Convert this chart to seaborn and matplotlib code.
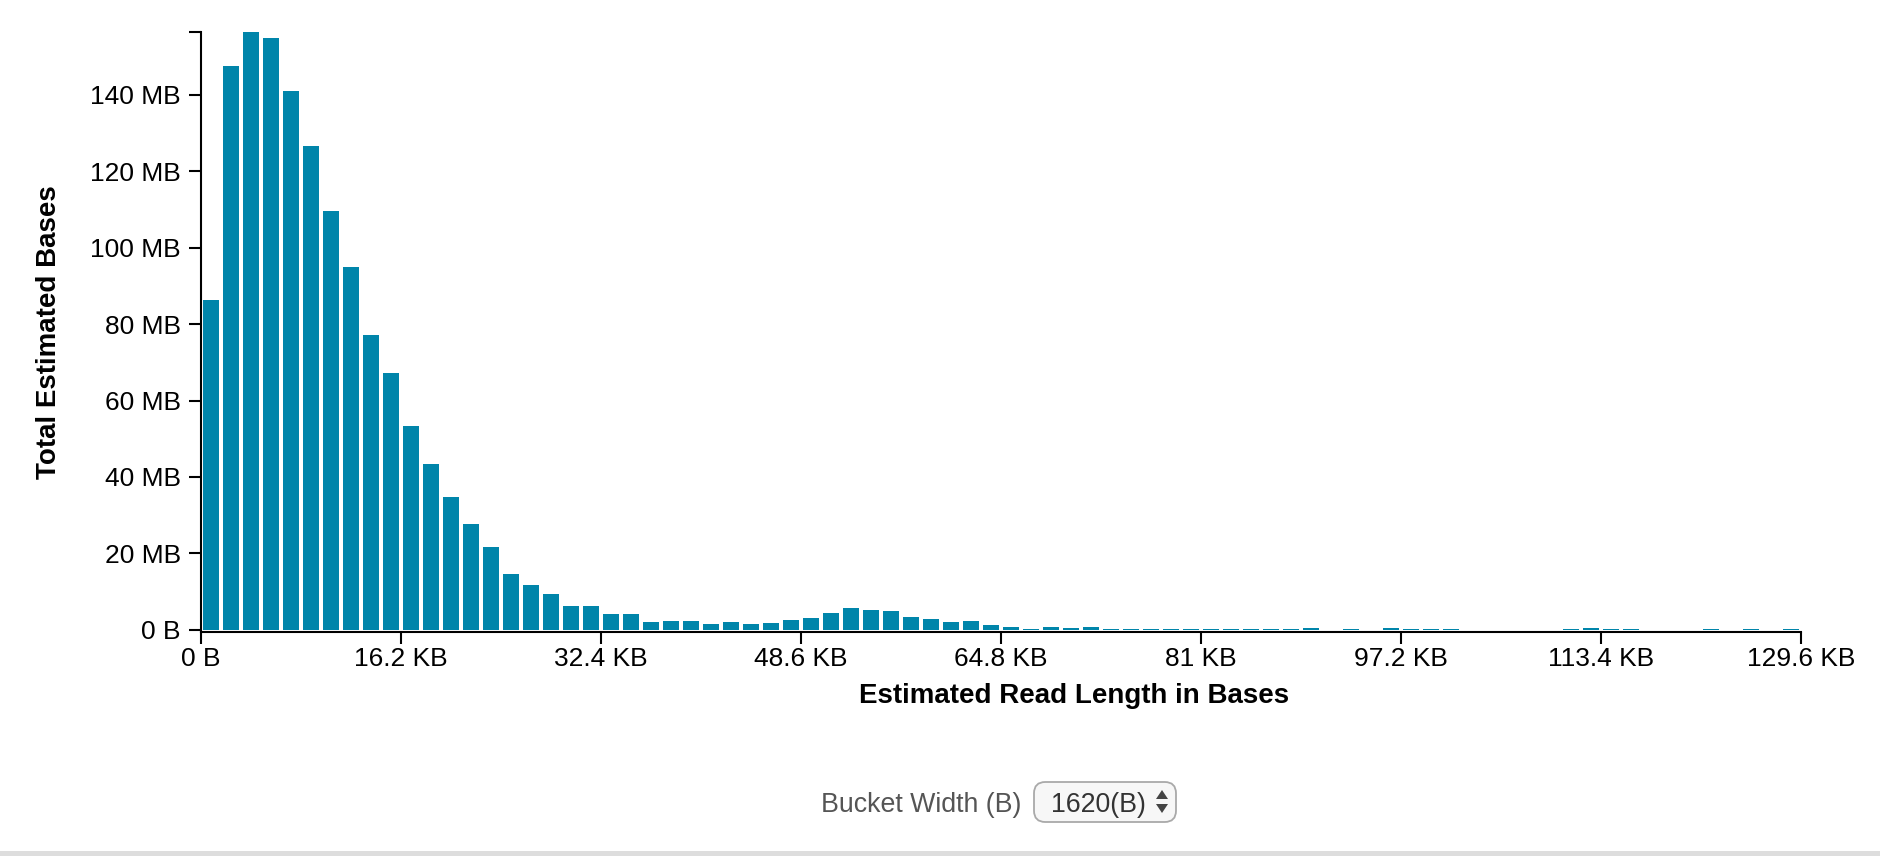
import numpy as np
import pandas as pd
import matplotlib
matplotlib.use("Agg")
import matplotlib.pyplot as plt
from matplotlib.patches import FancyBboxPatch, Rectangle, Polygon
import seaborn as sns

# ---- data -------------------------------------------------------------
bucket_width_b = 1620
n_buckets = 80
bucket_centers = [bucket_width_b * i + bucket_width_b / 2 for i in range(n_buckets)]
total_mb = [
    86.3, 147.5, 156.4, 154.9, 141.0, 126.7, 109.5, 94.9, 77.2, 67.3,
    53.4, 43.3, 34.7, 27.6, 21.6, 14.6, 11.7, 9.4, 6.3, 6.3,
    4.2, 4.2, 2.1, 2.35, 2.35, 1.55, 2.1, 1.55, 1.8, 2.6,
    3.1, 4.4, 5.7, 5.2, 4.95, 3.4, 2.9, 2.1, 2.35, 1.3,
    0.8, 0.26, 0.8, 0.5, 0.8, 0.25, 0.25, 0.25, 0.25, 0.25,
    0.25, 0.25, 0.25, 0.25, 0.25, 0.5, 0.0, 0.25, 0.0, 0.5,
    0.25, 0.25, 0.25, 0.0, 0.0, 0.0, 0.0, 0.0, 0.25, 0.5,
    0.25, 0.25, 0.0, 0.0, 0.0, 0.25, 0.0, 0.25, 0.0, 0.25,
]
x_tick_values = [0, 16200, 32400, 48600, 64800, 81000, 97200, 113400, 129600]
x_tick_labels = ["0 B", "16.2 KB", "32.4 KB", "48.6 KB", "64.8 KB",
                 "81 KB", "97.2 KB", "113.4 KB", "129.6 KB"]
y_tick_values = [0, 20, 40, 60, 80, 100, 120, 140]
y_tick_labels = ["0 B", "20 MB", "40 MB", "60 MB", "80 MB", "100 MB", "120 MB", "140 MB"]
y_max = 156.4

df = pd.DataFrame({"center": bucket_centers, "mb": total_mb})

# ---- style ------------------------------------------------------------
sns.set_style("ticks")
plt.rcParams["font.family"] = ["Liberation Sans", "DejaVu Sans"]

W, H = 1881, 856
fig = plt.figure(figsize=(W / 100, H / 100), dpi=100)
fig.patch.set_facecolor("white")

def fx(px):
    return px / W

def fy(py):
    return 1 - py / H

ax = fig.add_axes([fx(201), fy(632), 1600 / W, 600 / H])
ax.set_facecolor("white")

sns.barplot(data=df, x="center", y="mb", native_scale=True, width=0.835,
            color="#0085AA", saturation=1, linewidth=0, errorbar=None, ax=ax)

ax.set_xlim(0, 129600)
# bars sit a couple of pixels above the axis line, as in the reference
ax.set_ylim(-0.55, y_max)
ax.set_xticks(x_tick_values)
ax.set_xticklabels(x_tick_labels)
ax.set_yticks(y_tick_values + [y_max])
ax.set_yticklabels(y_tick_labels + [""])
ax.set_xlabel("")
ax.set_ylabel("")

for side in ["top", "right"]:
    ax.spines[side].set_visible(False)
for side in ["left", "bottom"]:
    ax.spines[side].set_color("black")
    ax.spines[side].set_linewidth(1.5)

ax.tick_params(axis="both", colors="black", labelcolor="black",
               length=8.6, width=1.5, labelsize=19)
ax.tick_params(axis="x", pad=2)
ax.tick_params(axis="y", pad=6)

fig.text(fx(49.5), fy(332), "Total Estimated Bases", rotation=90,
         ha="center", va="center", fontsize=20, fontweight="bold", color="black")
fig.text(fx(1074), fy(696), "Estimated Read Length in Bases",
         ha="center", va="center", fontsize=20, fontweight="bold", color="black")

# ---- bucket width control ---------------------------------------------
fig.text(fx(821), fy(812), "Bucket Width (B)", ha="left", va="baseline",
         fontsize=19.3, color="#555555")
box = FancyBboxPatch((fx(1034), fy(822)), fx(1176) - fx(1034), fy(782) - fy(822),
                     boxstyle="round,pad=0,rounding_size=0.006",
                     transform=fig.transFigure, facecolor="#f7f7f7",
                     edgecolor="#a9a9a9", linewidth=1.3, mutation_aspect=W / H)
fig.patches.append(box)
fig.text(fx(1051), fy(812), "1620(B)", ha="left", va="baseline",
         fontsize=19.3, color="#333333")
up = Polygon([(fx(1156), fy(799)), (fx(1168), fy(799)), (fx(1162), fy(790))],
             closed=True, transform=fig.transFigure, facecolor="#444444", edgecolor="none")
down = Polygon([(fx(1156), fy(804)), (fx(1168), fy(804)), (fx(1162), fy(813))],
               closed=True, transform=fig.transFigure, facecolor="#444444", edgecolor="none")
fig.patches.extend([up, down])

# bottom separator line
sep = Rectangle((0, fy(856)), 1, fy(851) - fy(856), transform=fig.transFigure,
                facecolor="#dddddd", edgecolor="none")
fig.patches.append(sep)

fig.savefig("out.png", dpi=100, facecolor="white")
